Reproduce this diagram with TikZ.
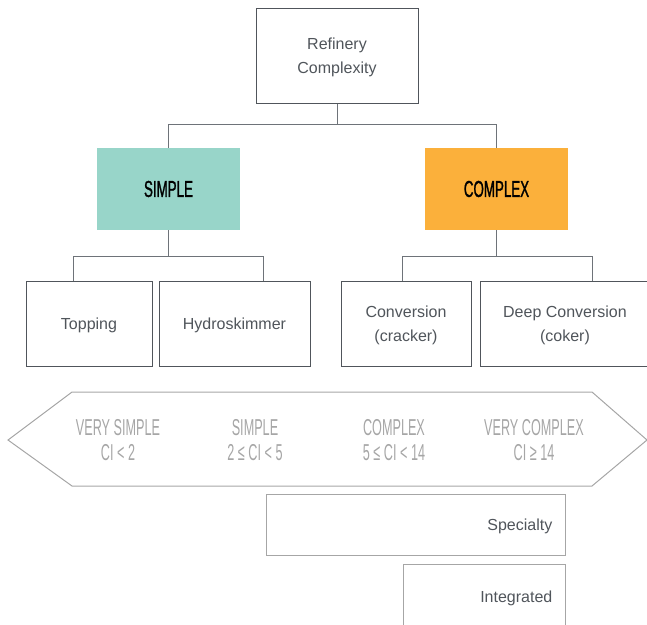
\documentclass[tikz,border=0pt]{standalone}
\usepackage{fontspec}
\setmainfont{Liberation Sans}
\newfontfamily\condfont[FakeStretch=0.55]{Liberation Sans}
\newfontfamily\condheavy[FakeStretch=0.58,FakeBold=1.2]{Liberation Sans}
\usetikzlibrary{positioning}
\definecolor{simplecol}{HTML}{98D5C9}
\definecolor{complexcol}{HTML}{FBB03B}
\definecolor{inkgray}{HTML}{50555B}
\definecolor{linegray}{HTML}{6E7379}
\definecolor{palegray}{HTML}{A6A6A6}
\begin{document}
\begin{tikzpicture}[x=1pt,y=-1pt,
    box/.style={draw=inkgray,line width=1pt,fill=white,inner sep=0pt},
    boxtext/.style={text=inkgray,align=center,inner sep=0pt,yshift=-2pt,font=\fontsize{16}{24}\selectfont},
    kind/.style={inner sep=0pt,minimum width=143pt,minimum height=82pt,text=black,font=\condheavy\fontsize{23}{24}\selectfont},
    band/.style={text=palegray,align=center,font=\condfont\fontsize{23}{25}\selectfont},
    tail/.style={draw=palegray,line width=1pt,inner sep=0pt},
    tailtext/.style={text=inkgray,anchor=east,inner sep=0pt,xshift=-13pt,yshift=-2pt,font=\fontsize{16}{24}\selectfont},
    link/.style={draw=linegray,line width=1pt}]
  \useasboundingbox (0,0) rectangle (647,624);
  % top of the tree
  \node[box,minimum width=162pt,minimum height=95pt,label={[boxtext]center:Refinery\\Complexity}](refinery) at (337,55.5){};
  \node[kind,fill=simplecol](simple) at (168.5,189){SIMPLE};
  \node[kind,fill=complexcol](complex) at (496.5,189){COMPLEX};
  % leaves
  \node[box,minimum width=126pt,minimum height=85pt,label={[boxtext]center:Topping}](topping) at (89,323.5){};
  \node[box,minimum width=151pt,minimum height=85pt,label={[boxtext]center:Hydroskimmer}](hydro) at (234.5,323.5){};
  \node[box,minimum width=130pt,minimum height=85pt,label={[boxtext]center:Conversion\\(cracker)}](conversion) at (406,323.5){};
  \node[box,minimum width=170pt,minimum height=85pt,label={[boxtext]center:Deep Conversion\\(coker)}](deep) at (565,323.5){};
  % connectors
  \draw[link] (refinery.south) -- ++(0,21) -| (simple.north);
  \draw[link] (refinery.south) -- ++(0,21) -| (complex.north);
  \draw[link] (simple.south) -- ++(0,26) -| ([xshift=-16pt]topping.north);
  \draw[link] (simple.south) -- ++(0,26) -| ([xshift=28.5pt]hydro.north);
  \draw[link] (complex.south) -- ++(0,26) -| ([xshift=-4pt]conversion.north);
  \draw[link] (complex.south) -- ++(0,26) -| ([xshift=27pt]deep.north);
  % the scale band
  \draw[draw=palegray,line width=1pt] (8,440) -- (72,392) -- (592,392) -- (647,440) -- (592,486) -- (72,486) -- cycle;
  \node[band](vsimple) at (118,440){VERY SIMPLE\\CI < 2};
  \node[band](bsimple) at (255,440){SIMPLE\\2 ≤ CI < 5};
  \node[band](bcomplex) at (394,440){COMPLEX\\5 ≤ CI < 14};
  \node[band](vcomplex) at (534,440){VERY COMPLEX\\CI ≥ 14};
  % lower boxes
  \node[tail,minimum width=299pt,minimum height=61pt,label={[tailtext]east:Specialty}](specialty) at (415.5,524.5){};
  \node[tail,minimum width=162pt,minimum height=64pt,label={[tailtext]east:Integrated}](integrated) at (484,596){};
\end{tikzpicture}
\end{document}
